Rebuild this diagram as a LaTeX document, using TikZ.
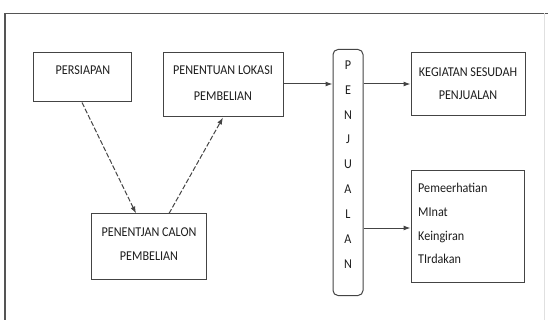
\documentclass[tikz,border=0pt]{standalone}
\usepackage{fontspec}
\setmainfont[FakeStretch=0.9]{Carlito}
\usetikzlibrary{arrows.meta,calc}
\definecolor{linegray}{HTML}{444444}
\definecolor{framegray}{HTML}{555555}
\definecolor{textgray}{HTML}{1E1E1E}
\begin{document}
\begin{tikzpicture}[x=1pt,y=-1pt,
  box/.style={draw=linegray, line width=1pt, inner sep=0pt, fill=white},
  lbl/.style={inner sep=0pt, text=textgray, font=\fontsize{13.5}{14}\selectfont,
    text height=9pt, text depth=2.5pt},
  flow/.style={draw=linegray, line width=1pt, -{Latex[length=7pt,width=5pt]}},
  dflow/.style={flow, dash pattern=on 5pt off 2pt}
]
\useasboundingbox (0,0) rectangle (548,320);
\fill[white] (0,0) rectangle (548,320);

% outer frame
\draw[framegray, line width=1.5pt] (5,320) -- (5,13.5) -- (548,13.5);
\draw[black!12, line width=0.8pt] (544,13.5) -- (544,320);

% boxes
\node[box, minimum width=98pt, minimum height=49pt] (persiapan) at (82,77.5) {};
\node[box, minimum width=120pt, minimum height=64pt] (lokasi) at (223,85) {};
\node[box, minimum width=115pt, minimum height=65pt] (calon) at (148.5,246.5) {};
\node[box, minimum width=114pt, minimum height=63pt] (kegiatan) at (468,84.5) {};
\node[box, minimum width=113pt, minimum height=111pt] (aida) at (467.5,226.5) {};
\node[box, rounded corners=5pt, minimum width=30pt, minimum height=246pt] (penjualan) at (348,172.5) {};

% box texts
\node[lbl] (t-persiapan) at (83,71) {PERSIAPAN};
\node[lbl] (t-lokasi1) at (223,71) {PENENTUAN LOKASI};
\node[lbl] (t-lokasi2) at (223,97) {PEMBELIAN};
\node[lbl] (t-calon1) at (149,233) {PENENTJAN CALON};
\node[lbl] (t-calon2) at (149,257) {PEMBELIAN};
\node[lbl] (t-kegiatan1) at (468,73) {KEGIATAN SESUDAH};
\node[lbl] (t-kegiatan2) at (468,96) {PENJUALAN};
\node[lbl, anchor=west] (t-aida1) at (418,189) {Pemeerhatian};
\node[lbl, anchor=west] (t-aida2) at (418,213) {MInat};
\node[lbl, anchor=west] (t-aida3) at (418,237) {Keingiran};
\node[lbl, anchor=west] (t-aida4) at (418,260) {TIrdakan};

% vertical word in the tall box
\foreach \ch [count=\i from 0] in {P,E,N,J,U,A,L,A,N}
  \node[lbl] (t-penj-\i) at (348,{66+24.9*\i}) {\ch};

% connectors
\draw[dflow] (persiapan.south) -- ([xshift=-12.5pt]calon.north);
\draw[dflow] ([xshift=20.5pt]calon.north) -- (lokasi.south);
\draw[flow] (lokasi.east |- 0,84) -- (penjualan.west |- 0,84);
\draw[flow] (penjualan.east |- 0,84) -- (kegiatan.west |- 0,84);
\draw[flow] (penjualan.east |- 0,228) -- (aida.west |- 0,228);
\end{tikzpicture}
\end{document}
